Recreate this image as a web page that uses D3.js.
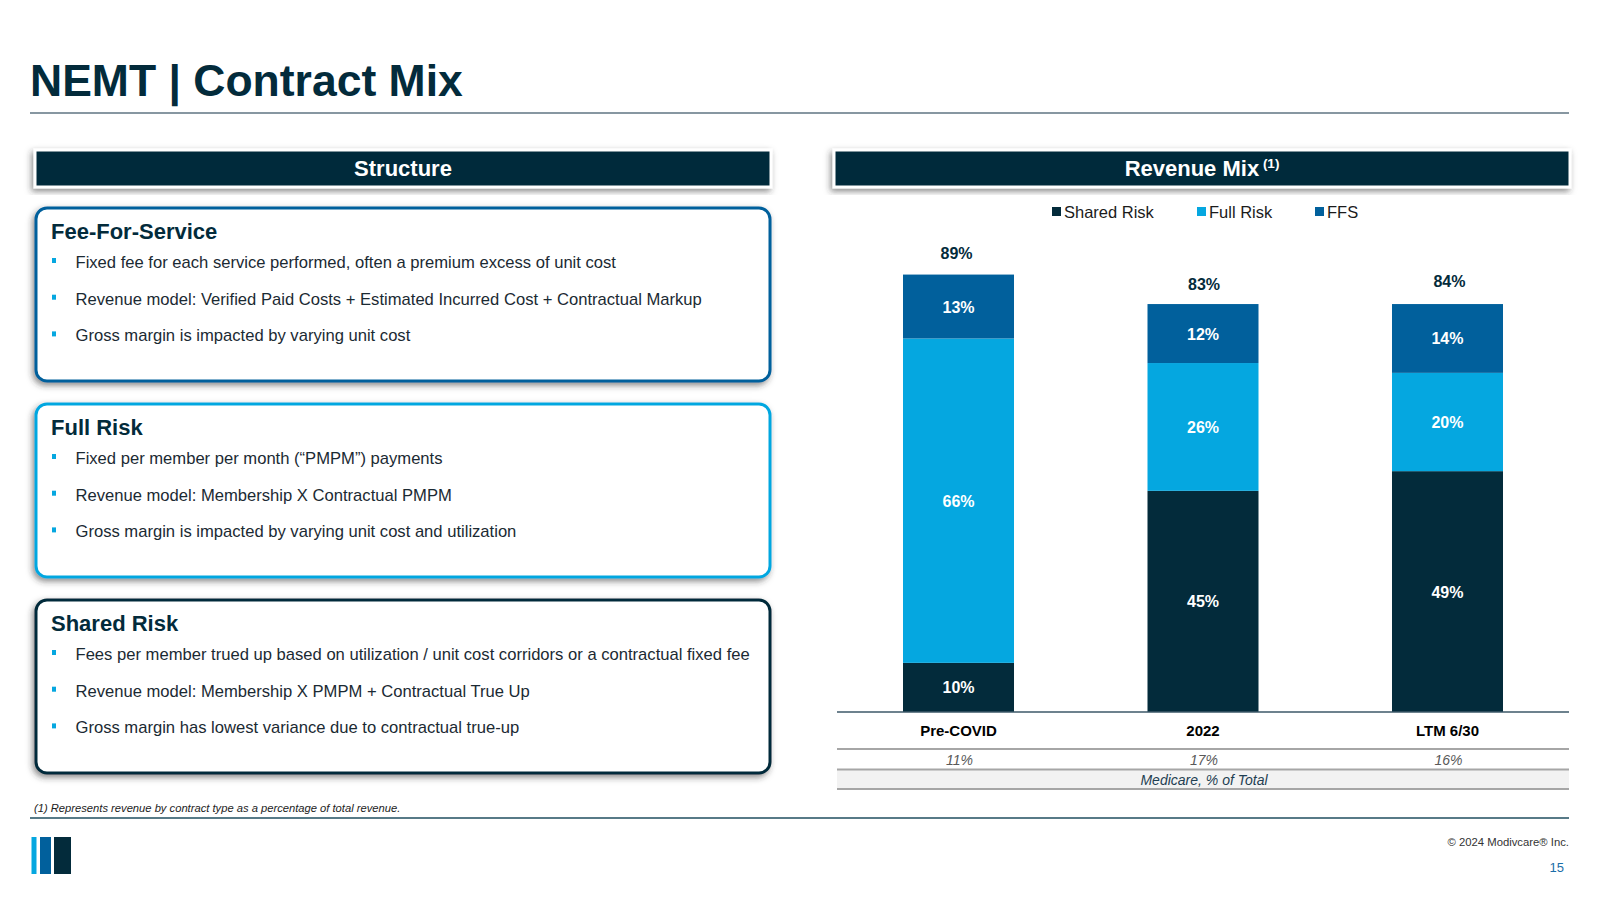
<!DOCTYPE html>
<html>
<head>
<meta charset="utf-8">
<script src="https://cdn.jsdelivr.net/npm/d3@7"></script>
<style>
html,body{margin:0;padding:0;background:#fff;}
svg{display:block;font-family:"Liberation Sans",Arial,sans-serif;}
</style>
</head>
<body>
<svg id="c" width="1600" height="900"></svg>
<script>
// ---------- data ----------
const categories = ["Pre-COVID", "2022", "LTM 6/30"];
const sharedRisk = [10, 45, 49];
const fullRisk   = [66, 26, 20];
const ffs        = [13, 12, 14];
const totals     = [89, 83, 84];
const medicare   = [11, 17, 16];
const seriesNames = ["Shared Risk", "Full Risk", "FFS"];

const structureBoxes = [
  {title: "Fee-For-Service", bullets: [
    "Fixed fee for each service performed, often a premium excess of unit cost",
    "Revenue model: Verified Paid Costs + Estimated Incurred Cost + Contractual Markup",
    "Gross margin is impacted by varying unit cost"]},
  {title: "Full Risk", bullets: [
    "Fixed per member per month (\u201CPMPM\u201D) payments",
    "Revenue model: Membership X Contractual PMPM",
    "Gross margin is impacted by varying unit cost and utilization"]},
  {title: "Shared Risk", bullets: [
    "Fees per member trued up based on utilization / unit cost corridors or a contractual fixed fee",
    "Revenue model: Membership X PMPM + Contractual True Up",
    "Gross margin has lowest variance due to contractual true-up"]}
];

// ---------- styles ----------
const NAVY = "#032b3b", LIGHT = "#05a7e0", MID = "#01609c";
const colors = {"Shared Risk": NAVY, "Full Risk": LIGHT, "FFS": MID};
const boxBorders = [MID, LIGHT, NAVY];

const svg = d3.select("#c");
const defs = svg.append("defs");
const f = defs.append("filter").attr("id", "sh").attr("x", "-5%").attr("y", "-20%").attr("width", "110%").attr("height", "140%");
f.append("feDropShadow").attr("dx", -2).attr("dy", 3).attr("stdDeviation", 3)
  .attr("flood-color", "#333").attr("flood-opacity", 0.55);

// title
svg.append("text").attr("x", 30).attr("y", 96).attr("font-size", 44.5).attr("font-weight", "bold")
  .attr("fill", NAVY).text("NEMT | Contract Mix");
svg.append("line").attr("x1", 30).attr("x2", 1569).attr("y1", 113).attr("y2", 113)
  .attr("stroke", "#5f7482").attr("stroke-width", 1.5);

// section headers
function header(x, w, label, sup) {
  const g = svg.append("g");
  g.append("rect").attr("x", x).attr("y", 150).attr("width", w).attr("height", 37)
    .attr("fill", NAVY).attr("stroke", "#fff").attr("stroke-width", 3).attr("filter", "url(#sh)");
  const t = g.append("text").attr("x", x + w / 2).attr("y", 176).attr("text-anchor", "middle")
    .attr("font-size", 22).attr("font-weight", "bold").attr("fill", "#fff").text(label);
  if (sup) t.append("tspan").attr("font-size", 13.5).attr("dy", -8).text(" " + sup);
}
header(35, 736, "Structure");
header(834, 736, "Revenue Mix", "(1)");

// structure boxes
const boxTop = [208, 404, 600];
structureBoxes.forEach((b, i) => {
  const y0 = boxTop[i];
  const g = svg.append("g");
  g.append("rect").attr("x", 36).attr("y", y0).attr("width", 734).attr("height", 173)
    .attr("rx", 11).attr("fill", "#fff").attr("stroke", boxBorders[i]).attr("stroke-width", 3)
    .attr("filter", "url(#sh)");
  g.append("text").attr("x", 51).attr("y", y0 + 31).attr("font-size", 22).attr("font-weight", "bold")
    .attr("fill", NAVY).text(b.title);
  b.bullets.forEach((t, j) => {
    const by = y0 + 60 + j * 36.7;
    g.append("rect").attr("x", 52).attr("y", by - 10).attr("width", 4).attr("height", 5).attr("fill", LIGHT);
    g.append("text").attr("x", 75.5).attr("y", by).attr("font-size", 16.6).attr("fill", "#1b2a33").text(t);
  });
});

// ---------- chart ----------
const x = d3.scaleBand().domain(categories).range([903, 1503]).paddingInner(0.546).paddingOuter(0);
const y = d3.scaleLinear().domain([0, 100]).range([712, 220.5]);

const table = categories.map((c, i) => ({cat: c, "Shared Risk": sharedRisk[i], "Full Risk": fullRisk[i], "FFS": ffs[i]}));
const stack = d3.stack().keys(seriesNames)(table);

const gBars = svg.append("g");
stack.forEach(layer => {
  const key = layer.key;
  layer.forEach(d => {
    gBars.append("rect").attr("x", x(d.data.cat)).attr("width", x.bandwidth())
      .attr("y", y(d[1])).attr("height", y(d[0]) - y(d[1])).attr("fill", colors[key]);
    gBars.append("text").attr("x", x(d.data.cat) + x.bandwidth() / 2)
      .attr("y", (y(d[0]) + y(d[1])) / 2 + 6).attr("text-anchor", "middle")
      .attr("font-size", 16).attr("font-weight", "bold").attr("fill", "#fff")
      .text(d.data[key] + "%");
  });
});

// totals
const totalDx = [-2, 1, 2];
const totalDy = [-16, -14, -17];
categories.forEach((c, i) => {
  const top = y(sharedRisk[i] + fullRisk[i] + ffs[i]);
  svg.append("text").attr("x", x(c) + x.bandwidth() / 2 + totalDx[i]).attr("y", top + totalDy[i])
    .attr("text-anchor", "middle").attr("font-size", 16).attr("font-weight", "bold").attr("fill", NAVY)
    .text(totals[i] + "%");
});

// axis
const xAxis = d3.axisBottom(x).tickSize(0).tickPadding(10);
const ax = svg.append("g").attr("transform", "translate(0,712)").call(xAxis);
ax.select(".domain").remove();
ax.selectAll("text").attr("font-size", 15).attr("font-weight", "bold").attr("fill", "#000")
  .attr("font-family", "Liberation Sans, Arial, sans-serif").attr("dy", "0.95em");
svg.append("line").attr("x1", 837).attr("x2", 1569).attr("y1", 712).attr("y2", 712)
  .attr("stroke", "#3d5868").attr("stroke-width", 1.5);

// medicare table
svg.append("rect").attr("x", 837).attr("y", 769.5).attr("width", 732).attr("height", 19.5).attr("fill", "#f2f2f2");
[749, 769.5, 789].forEach(ly => svg.append("line").attr("x1", 837).attr("x2", 1569)
  .attr("y1", ly).attr("y2", ly).attr("stroke", "#a6a6a6").attr("stroke-width", 2));
categories.forEach((c, i) => {
  svg.append("text").attr("x", x(c) + x.bandwidth() / 2 + 1).attr("y", 765).attr("text-anchor", "middle")
    .attr("font-size", 14).attr("font-style", "italic").attr("fill", "#595959").text(medicare[i] + "%");
});
svg.append("text").attr("x", 1204).attr("y", 785).attr("text-anchor", "middle")
  .attr("font-size", 14).attr("font-style", "italic").attr("fill", "#1f3f52").text("Medicare, % of Total");

// legend
const legX = [1052, 1197, 1315];
seriesNames.forEach((s, i) => {
  svg.append("rect").attr("x", legX[i]).attr("y", 207).attr("width", 9).attr("height", 9).attr("fill", colors[s]);
  svg.append("text").attr("x", legX[i] + 12).attr("y", 218).attr("font-size", 16.5).attr("fill", "#1b1b1b").text(s);
});

// footnote / footer
svg.append("text").attr("x", 34).attr("y", 812).attr("font-size", 11.2).attr("font-style", "italic")
  .attr("fill", "#222").text("(1) Represents revenue by contract type as a percentage of total revenue.");
svg.append("line").attr("x1", 30).attr("x2", 1569).attr("y1", 818).attr("y2", 818)
  .attr("stroke", "#1f4e5f").attr("stroke-width", 1.5);
svg.append("rect").attr("x", 31.5).attr("y", 837).attr("width", 5).attr("height", 37).attr("fill", LIGHT);
svg.append("rect").attr("x", 40).attr("y", 837).attr("width", 11).attr("height", 37).attr("fill", MID);
svg.append("rect").attr("x", 54).attr("y", 837).attr("width", 17).attr("height", 37).attr("fill", NAVY);
svg.append("text").attr("x", 1569).attr("y", 846).attr("text-anchor", "end").attr("font-size", 11.3)
  .attr("fill", "#333").text("\u00A9 2024 Modivcare\u00AE Inc.");
svg.append("text").attr("x", 1564).attr("y", 872).attr("text-anchor", "end").attr("font-size", 13)
  .attr("fill", "#1a6ea8").text("15");
</script>
</body>
</html>
